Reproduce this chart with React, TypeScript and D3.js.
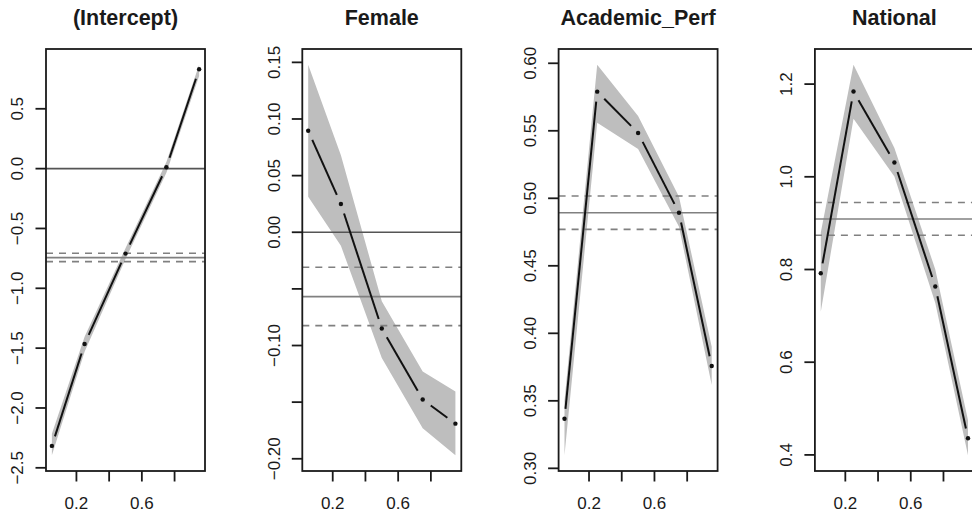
import React from "react";
import * as d3 from "d3";

const taus = [0.05, 0.25, 0.5, 0.75, 0.95];
const panelTitles = ["(Intercept)", "Female", "Academic_Perf", "National"];

const coefIntercept = [-2.317, -1.465, -0.71, 0.012, 0.83];
const lowerIntercept = [-2.396, -1.53, -0.755, -0.035, 0.775];
const upperIntercept = [-2.215, -1.405, -0.665, 0.055, 0.869];

const coefFemale = [0.0896, 0.025, -0.085, -0.1477, -0.169];
const lowerFemale = [0.0314, -0.012, -0.111, -0.173, -0.197];
const upperFemale = [0.148, 0.068, -0.061, -0.123, -0.1406];

const coefAcademic = [0.3367, 0.579, 0.5484, 0.4893, 0.3758];
const lowerAcademic = [0.3096, 0.556, 0.5365, 0.479, 0.3617];
const upperAcademic = [0.35, 0.599, 0.561, 0.5012, 0.39];

const coefNational = [0.792, 1.184, 1.0308, 0.7633, 0.436];
const lowerNational = [0.709, 1.125, 1.0006, 0.728, 0.399];
const upperNational = [0.88, 1.242, 1.062, 0.8, 0.475];

// OLS estimate and its CI: [estimate, lower, upper]
const olsIntercept = [-0.744, -0.777, -0.707];
const olsFemale = [-0.0568, -0.0824, -0.0309];
const olsAcademic = [0.4893, 0.477, 0.5017];
const olsNational = [0.909, 0.874, 0.9445];

const xTicks = [0.2, 0.4, 0.6, 0.8];
const xTickLabels = ["0.2", "", "0.6", ""];

const yTicksIntercept = [-2.5, -2.0, -1.5, -1.0, -0.5, 0.0, 0.5];
const yLabelsIntercept = ["−2.5", "−2.0", "−1.5", "−1.0", "−0.5", "0.0", "0.5"];
const yTicksFemale = [-0.2, -0.15, -0.1, -0.05, 0.0, 0.05, 0.1, 0.15];
const yLabelsFemale = ["−0.20", "", "−0.10", "", "0.00", "0.05", "0.10", "0.15"];
const yTicksAcademic = [0.3, 0.35, 0.4, 0.45, 0.5, 0.55, 0.6];
const yLabelsAcademic = ["0.30", "0.35", "0.40", "0.45", "0.50", "0.55", "0.60"];
const yTicksNational = [0.4, 0.6, 0.8, 1.0, 1.2];
const yLabelsNational = ["0.4", "0.6", "0.8", "1.0", "1.2"];

const panels = [
  { title: panelTitles[0], coef: coefIntercept, lower: lowerIntercept, upper: upperIntercept, ols: olsIntercept, ticks: yTicksIntercept, labels: yLabelsIntercept },
  { title: panelTitles[1], coef: coefFemale, lower: lowerFemale, upper: upperFemale, ols: olsFemale, ticks: yTicksFemale, labels: yLabelsFemale },
  { title: panelTitles[2], coef: coefAcademic, lower: lowerAcademic, upper: upperAcademic, ols: olsAcademic, ticks: yTicksAcademic, labels: yLabelsAcademic },
  { title: panelTitles[3], coef: coefNational, lower: lowerNational, upper: upperNational, ols: olsNational, ticks: yTicksNational, labels: yLabelsNational },
];

const W = 972;
const H = 514;
const firstLeft = 46;
const panelStep = 256.3;
const panelW = 159;
const top = 49;
const bottom = 471;
const tickLen = 10.5;
const FONT = "'Liberation Sans', Arial, Helvetica, sans-serif";
const GAP = 10;

function extend(lo: number, hi: number): [number, number] {
  const d = (hi - lo) * 0.04;
  return [lo - d, hi + d];
}

function Panel({ p, idx }: { p: typeof panels[number]; idx: number }) {
  const left = firstLeft + idx * panelStep;
  const right = left + panelW;
  const tauExt = extend(d3.min(taus)!, d3.max(taus)!);
  const x = d3.scaleLinear().domain(tauExt).range([left, right]);
  const yExt = extend(
    Math.min(d3.min(p.lower)!, d3.min(p.upper)!),
    Math.max(d3.max(p.lower)!, d3.max(p.upper)!)
  );
  const y = d3.scaleLinear().domain(yExt).range([bottom, top]);

  const bandPts: [number, number][] = [
    ...taus.map((t, i) => [t, p.upper[i]] as [number, number]),
    ...taus.map((t, i) => [t, p.lower[i]] as [number, number]).reverse(),
  ];
  const area = d3
    .line<[number, number]>()
    .x((d) => x(d[0]))
    .y((d) => y(d[1]));
  const bandPath = area(bandPts) + "Z";

  const pts = taus.map((t, i) => [x(t), y(p.coef[i])]);
  const segs: { x1: number; y1: number; x2: number; y2: number }[] = [];
  for (let i = 0; i < pts.length - 1; i++) {
    const [ax, ay] = pts[i];
    const [bx, by] = pts[i + 1];
    const len = Math.hypot(bx - ax, by - ay);
    if (len > 2 * GAP) {
      const ux = (bx - ax) / len;
      const uy = (by - ay) / len;
      segs.push({ x1: ax + ux * GAP, y1: ay + uy * GAP, x2: bx - ux * GAP, y2: by - uy * GAP });
    }
  }

  const cx = (left + right) / 2;
  const clipId = `clip${idx}`;
  return (
    <g>
      <defs>
        <clipPath id={clipId}>
          <rect x={left} y={top} width={panelW} height={bottom - top} />
        </clipPath>
      </defs>
      <text x={cx} y={25} textAnchor="middle" fontFamily={FONT} fontWeight="bold" fontSize={21.5} fill="#1a1a1a">
        {p.title}
      </text>
      <g clipPath={`url(#${clipId})`}>
        <path d={bandPath} fill="#bebebe" stroke="none" />
        <line x1={left} x2={right} y1={y(p.ols[0])} y2={y(p.ols[0])} stroke="#808080" strokeWidth={1.6} />
        <line x1={left} x2={right} y1={y(p.ols[1])} y2={y(p.ols[1])} stroke="#808080" strokeWidth={1.6} strokeDasharray="7,6" />
        <line x1={left} x2={right} y1={y(p.ols[2])} y2={y(p.ols[2])} stroke="#808080" strokeWidth={1.6} strokeDasharray="7,6" />
        {yExt[0] < 0 && yExt[1] > 0 && (
          <line x1={left} x2={right} y1={y(0)} y2={y(0)} stroke="#555555" strokeWidth={1.6} />
        )}
        {segs.map((s, i) => (
          <line key={i} x1={s.x1} y1={s.y1} x2={s.x2} y2={s.y2} stroke="#111" strokeWidth={2} />
        ))}
        {pts.map(([px, py], i) => (
          <circle key={i} cx={px} cy={py} r={2.2} fill="#111" />
        ))}
      </g>
      <rect x={left} y={top} width={panelW} height={bottom - top} fill="none" stroke="#1a1a1a" strokeWidth={1.8} />
      {xTicks.map((t, i) => (
        <g key={`xt${i}`}>
          <line x1={x(t)} x2={x(t)} y1={bottom} y2={bottom + tickLen} stroke="#1a1a1a" strokeWidth={1.8} />
          {xTickLabels[i] && (
            <text x={x(t)} y={509} textAnchor="middle" fontFamily={FONT} fontSize={17} fill="#1a1a1a">
              {xTickLabels[i]}
            </text>
          )}
        </g>
      ))}
      {p.ticks.map((t, i) => (
        <g key={`yt${i}`}>
          <line x1={left - tickLen} x2={left} y1={y(t)} y2={y(t)} stroke="#1a1a1a" strokeWidth={1.8} />
          {p.labels[i] && (
            <text
              transform={`translate(${left - 22.7},${y(t)}) rotate(-90)`}
              textAnchor="middle"
              fontFamily={FONT}
              fontSize={17}
              fill="#1a1a1a"
            >
              {p.labels[i]}
            </text>
          )}
        </g>
      ))}
    </g>
  );
}

export default function App() {
  return (
    <svg
      width={W}
      height={H}
      viewBox={`0 0 ${W} ${H}`}
      style={{ position: "absolute", left: 0, top: 0, background: "#fff" }}
    >
      <rect x={0} y={0} width={W} height={H} fill="#fff" />
      {panels.map((p, i) => (
        <Panel key={i} p={p} idx={i} />
      ))}
    </svg>
  );
}
